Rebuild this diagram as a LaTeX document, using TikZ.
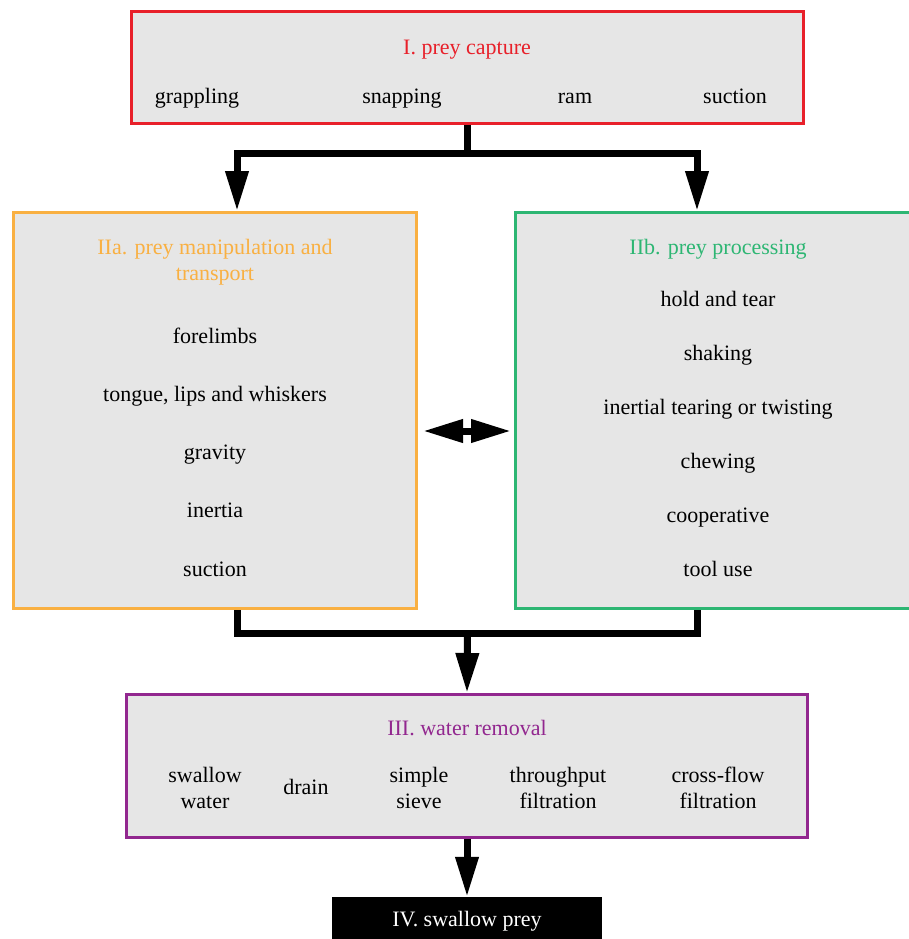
\documentclass[tikz,border=0pt]{standalone}
\usepackage{fontspec}
\setmainfont{Liberation Serif}
\usetikzlibrary{positioning, arrows.meta, calc}

\definecolor{capturered}{HTML}{E8202A}
\definecolor{maniporange}{HTML}{F9B042}
\definecolor{procgreen}{HTML}{2DB673}
\definecolor{removepurple}{HTML}{92278F}
\definecolor{stagegray}{HTML}{E6E6E6}

\begin{document}
\begin{tikzpicture}[x=1pt, y=-1pt, font=\fontsize{22}{26}\selectfont,
  stage/.style={draw, fill=stagegray, line width=3pt, rectangle, inner sep=0pt},
  item/.style={align=center, inner sep=0pt, anchor=base},
  pair/.style={align=center, inner sep=0pt},
  flow/.style={line width=7pt, -{Triangle[length=40pt,width=22pt]}},
  both/.style={line width=7pt, {Triangle[length=40pt,width=22pt]}-{Triangle[length=40pt,width=22pt]}},
]
  \useasboundingbox (0,0) rectangle (909,939);
  \clip (0,0) rectangle (909,939);

  % stage boxes
  \node[stage, draw=capturered, minimum width=672pt, minimum height=112pt] (capture) at (467.5,67.5) {};
  \node[stage, draw=maniporange, minimum width=403pt, minimum height=396pt] (manip) at (215,410.5) {};
  \node[stage, draw=procgreen, minimum width=405pt, minimum height=396pt] (proc) at (718,410.5) {};
  \node[stage, draw=removepurple, minimum width=681pt, minimum height=143pt] (remove) at (467,766) {};
  \node[fill=black, minimum width=270pt, minimum height=46pt] (swallow) at (467,920) {};
  \node[item, text=white] (swallowText) at (467,926) {IV. swallow prey};

  % I. prey capture
  \node[item, text=capturered] (captureTitle) at (467,55) {I. prey capture};
  \node[item] (grappling) at (197,104) {grappling};
  \node[item] (snapping) at (402,104) {snapping};
  \node[item] (ram) at (575,104) {ram};
  \node[item] (captureSuction) at (735,104) {suction};

  % IIa. prey manipulation and transport
  \node[pair, text=maniporange] (manipTitle) at (215,262) {IIa. prey manipulation and\\transport};
  \node[item] (forelimbs) at (215,343) {forelimbs};
  \node[item] (tongue) at (215,401) {tongue, lips and whiskers};
  \node[item] (gravity) at (215,459) {gravity};
  \node[item] (inertia) at (215,517) {inertia};
  \node[item] (manipSuction) at (215,576) {suction};

  % IIb. prey processing
  \node[item, text=procgreen] (procTitle) at (718,254) {IIb. prey processing};
  \node[item] (holdTear) at (718,306) {hold and tear};
  \node[item] (shaking) at (718,360) {shaking};
  \node[item] (inertial) at (718,414) {inertial tearing or twisting};
  \node[item] (chewing) at (718,468) {chewing};
  \node[item] (cooperative) at (718,522) {cooperative};
  \node[item] (toolUse) at (718,576) {tool use};

  % III. water removal
  \node[item, text=removepurple] (removeTitle) at (467,735) {III. water removal};
  \node[pair] (swallowWater) at (205,788) {swallow\\water};
  \node[item] (drain) at (306,794) {drain};
  \node[pair] (sieve) at (419,788) {simple\\sieve};
  \node[pair] (throughput) at (558,788) {throughput\\filtration};
  \node[pair] (crossflow) at (718,788) {cross-flow\\filtration};

  % connectors
  \coordinate (split) at ([yshift=-28.5pt]capture.south);
  \coordinate (merge) at ([yshift=-23.5pt]manip.south -| capture.south);
  \draw[line width=7pt] (capture.south) -- (split);
  \draw[flow] (split) -| ([xshift=22pt]manip.north);
  \draw[flow] (split) -| ([xshift=-21pt]proc.north);
  \draw[both, shorten <=5pt, shorten >=3pt] ([yshift=-20.5pt]manip.east) -- ([yshift=-20.5pt]proc.west);
  \draw[line width=7pt] ([xshift=22pt]manip.south) |- (merge) -| ([xshift=-21pt]proc.south);
  \draw[flow] (merge) -- (remove.north);
  \draw[flow] (remove.south) -- (swallow.north);
\end{tikzpicture}
\end{document}
